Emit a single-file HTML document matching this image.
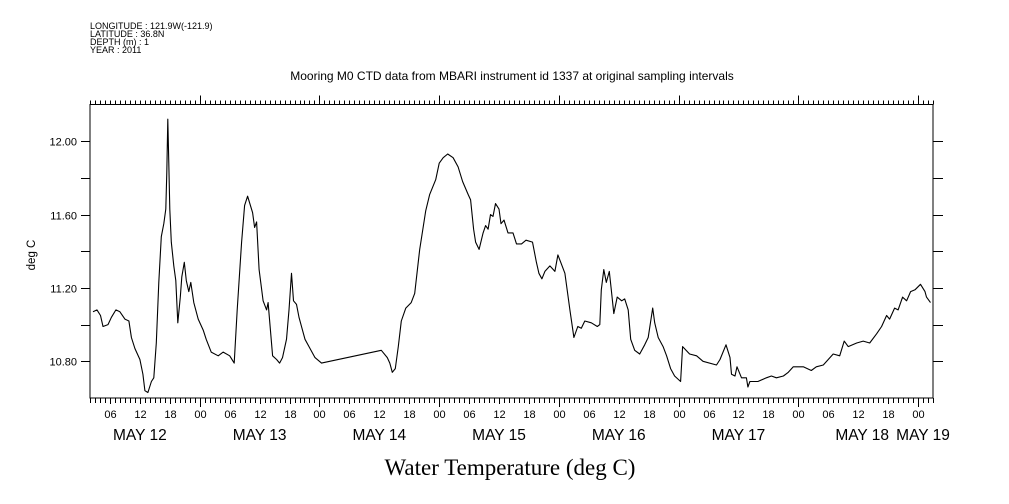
<!DOCTYPE html>
<html><head><meta charset="utf-8"><style>
html,body{margin:0;padding:0;background:#fff;}
svg{display:block;font-family:"Liberation Sans",sans-serif;}
</style></head><body>
<svg id="chart" width="1009" height="504" viewBox="0 0 1009 504" xmlns="http://www.w3.org/2000/svg">
<rect width="1009" height="504" fill="#fff"/>
<g font-size="9" fill="#000">
<text x="90" y="29">LONGITUDE : 121.9W(-121.9)</text>
<text x="90" y="37">LATITUDE : 36.8N</text>
<text x="90" y="45">DEPTH (m) : 1</text>
<text x="90" y="53">YEAR : 2011</text>
</g>
<text x="512" y="80" text-anchor="middle" font-size="12">Mooring M0 CTD data from MBARI instrument id 1337 at original sampling intervals</text>
<text transform="translate(35,255) rotate(-90)" text-anchor="middle" font-size="11.5">deg C</text>
<text x="510" y="475" text-anchor="middle" font-family="'Liberation Serif',serif" font-size="23">Water Temperature (deg C)</text>
<g id="axes"></g>
<g id="series"></g>
</svg>
<script>
const hours = [2.6,3.4,4.1,4.6,5.6,6.3,7.2,8.0,9.0,9.8,10.3,11.0,12.0,12.6,13.0,13.6,14.3,14.8,15.3,15.8,16.3,16.8,17.2,17.4,17.6,17.8,18.0,18.3,18.8,19.2,19.6,20.1,20.4,20.9,21.3,21.8,22.2,22.8,23.7,24.7,25.3,26.3,27.7,28.7,30.0,30.9,31.5,32.4,33.0,33.6,34.6,35.0,35.4,35.9,36.7,37.4,37.7,38.6,39.4,40.0,40.6,41.4,41.9,42.4,42.8,43.4,43.9,44.4,45.1,45.9,47.1,48.4,60.4,61.6,62.1,62.6,63.2,63.8,64.4,65.3,66.4,67.1,68.1,69.3,70.1,71.3,72.0,72.8,73.7,74.8,75.8,76.7,77.8,78.3,78.9,79.3,80.0,80.8,81.3,81.8,82.3,82.8,83.3,84.0,84.4,85.0,85.8,86.8,87.5,88.5,89.4,90.7,91.5,92.0,92.6,93.2,94.2,95.2,95.8,96.5,97.2,98.2,99.0,99.8,100.5,101.2,102.5,103.7,104.2,104.5,105.0,105.5,106.1,106.5,107.0,107.7,108.6,109.2,109.9,110.4,111.2,112.2,113.2,113.9,114.8,115.2,115.9,116.9,117.6,118.4,119.2,120.4,120.8,122.2,123.6,124.9,127.6,128.3,129.5,130.3,130.6,131.3,131.7,132.6,133.6,133.9,134.3,135.9,137.6,138.6,139.6,141.0,142.0,143.0,145.0,146.6,147.6,149.0,151.0,152.3,153.2,154.0,155.7,157.0,158.3,159.7,160.7,161.7,162.3,163.3,164.0,164.9,165.7,166.5,167.4,168.5,169.4,169.7,170.5];
const temps = [11.07,11.08,11.05,10.99,11.00,11.04,11.08,11.07,11.03,11.02,10.93,10.87,10.81,10.73,10.64,10.63,10.69,10.71,10.90,11.23,11.48,11.55,11.63,11.83,12.12,11.88,11.63,11.45,11.32,11.24,11.01,11.15,11.26,11.34,11.24,11.18,11.23,11.12,11.03,10.97,10.92,10.85,10.83,10.85,10.83,10.79,11.08,11.45,11.65,11.70,11.61,11.53,11.56,11.30,11.13,11.08,11.12,10.83,10.81,10.79,10.82,10.92,11.08,11.28,11.13,11.11,11.04,10.99,10.92,10.88,10.82,10.79,10.86,10.82,10.79,10.74,10.76,10.88,11.02,11.09,11.12,11.17,11.41,11.62,11.71,11.79,11.88,11.91,11.93,11.91,11.86,11.78,11.71,11.68,11.52,11.45,11.41,11.50,11.54,11.52,11.60,11.59,11.66,11.63,11.55,11.57,11.50,11.50,11.44,11.44,11.46,11.45,11.34,11.28,11.25,11.29,11.32,11.29,11.38,11.33,11.28,11.08,10.93,10.99,10.98,11.02,11.01,10.99,11.00,11.19,11.30,11.23,11.29,11.19,11.06,11.15,11.13,11.14,11.08,10.92,10.86,10.84,10.89,10.93,11.09,11.01,10.93,10.88,10.83,10.76,10.72,10.69,10.88,10.84,10.83,10.80,10.78,10.81,10.89,10.82,10.73,10.72,10.77,10.71,10.71,10.66,10.69,10.69,10.71,10.72,10.71,10.72,10.74,10.77,10.77,10.75,10.77,10.78,10.84,10.83,10.91,10.88,10.90,10.91,10.90,10.95,10.99,11.05,11.03,11.09,11.08,11.15,11.13,11.18,11.19,11.22,11.18,11.15,11.12];
const yTicks = [10.8,11.0,11.2,11.4,11.6,11.8,12.0];
const yLabels = ["10.80","","11.20","","11.60","","12.00"];
const hourLabels = ["06","12","18","00"];
const dayLabels = ["MAY 12","MAY 13","MAY 14","MAY 15","MAY 16","MAY 17","MAY 18","MAY 19"];

const NS="http://www.w3.org/2000/svg";
const L=90,R=933,T=104.5,B=398;
const H0=2,H1=171,V0=10.6,V1=12.2;
const xs=h=>L+(h-H0)/(H1-H0)*(R-L);
const ys=v=>B-(v-V0)/(V1-V0)*(B-T);
function mk(tag,attrs,parent){const e=document.createElementNS(NS,tag);for(const k in attrs)e.setAttribute(k,attrs[k]);parent.appendChild(e);return e;}
const axes=document.getElementById('axes');
const frame=mk('rect',{x:L,y:T,width:R-L,height:B-T,fill:'none',stroke:'#000','stroke-width':1},axes);


let tp='';
for(let h=Math.ceil(H0);h<=H1;h++){
  const x=Math.round(xs(h))+0.5;
  const major=h%24===0, mid=h%6===0;
  tp+=`M${x},${T}V${T-(major?9:4)}`;
  tp+=`M${x},${B}V${B+(major?9:mid?6:5)}`;
  if(mid){
    const t=mk('text',{x:x,y:B+20,'text-anchor':'middle','font-size':11},axes);
    t.textContent=hourLabels[((h%24)/6+3)%4];
    
    
  }
}
yTicks.forEach((v,i)=>{
  const y=Math.round(ys(v))+0.5;
  tp+=`M${L},${y}H${L-9}M${R},${y}H${R+10}`;
  if(yLabels[i]){
    const t=mk('text',{x:77,y:y+4,'text-anchor':'end','font-size':11},axes);
    t.textContent=yLabels[i];
    
    
  }
});
const ticks=mk('path',{d:tp,stroke:'#000','stroke-width':1,fill:'none'},axes);


dayLabels.forEach((d,i)=>{
  let x=xs(24*i+12);
  if(i===6) x=xs(24*i+12)+4;
  if(i===7) x=xs(24*i)+5;
  const t=mk('text',{x:x,y:440,'text-anchor':'middle','font-size':15.5},axes);
  t.textContent=d;
  
  
});
let d='';
hours.forEach((h,i)=>{d+=(i?'L':'M')+xs(h).toFixed(1)+','+ys(temps[i]).toFixed(1);});
const line=mk('path',{d:d,stroke:'#000','stroke-width':1.1,fill:'none','stroke-linejoin':'round'},document.getElementById('series'));


</script>
</body></html>
